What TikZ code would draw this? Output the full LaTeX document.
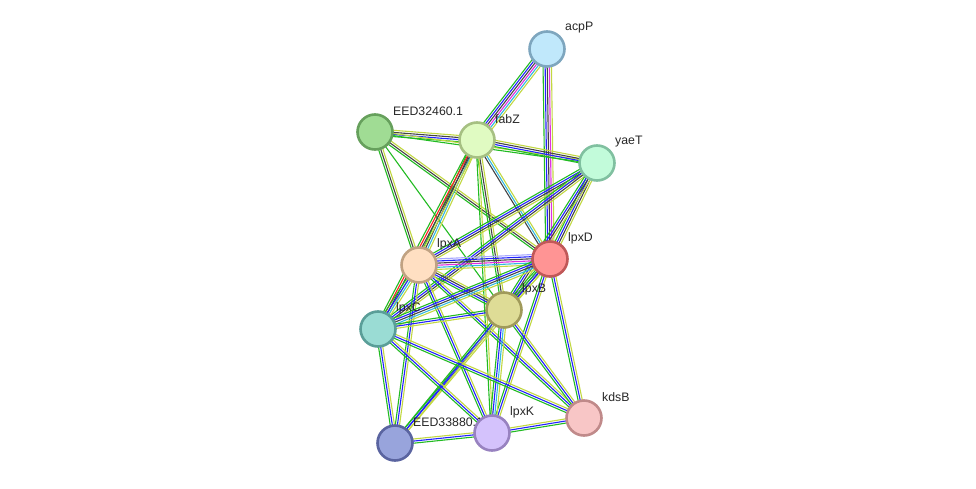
\documentclass[tikz,border=0pt]{standalone}
\usepackage{fontspec}
\setmainfont{Liberation Sans}
\usetikzlibrary{calc}
\pgfdeclarelayer{edges}
\pgfdeclarelayer{labels}
\pgfsetlayers{edges,labels,main}
\definecolor{sG}{HTML}{22BB22}
\definecolor{sY}{HTML}{C2D842}
\definecolor{sK}{HTML}{444444}
\definecolor{sB}{HTML}{2222FF}
\definecolor{sC}{HTML}{33B8E0}
\definecolor{sM}{HTML}{E030E0}
\definecolor{sR}{HTML}{FF2020}
\definecolor{sL}{HTML}{A8A8FF}
\definecolor{facpP}{HTML}{C0E8FB}\definecolor{dacpP}{HTML}{7EA6BE}
\definecolor{fE60}{HTML}{A0DC94}\definecolor{dE60}{HTML}{66A05C}
\definecolor{ffabZ}{HTML}{E0FBC2}\definecolor{dfabZ}{HTML}{A6C082}
\definecolor{fyaeT}{HTML}{C2FBDA}\definecolor{dyaeT}{HTML}{80C0A0}
\definecolor{flpxA}{HTML}{FFDFC2}\definecolor{dlpxA}{HTML}{C0A282}
\definecolor{flpxD}{HTML}{FF9494}\definecolor{dlpxD}{HTML}{C05858}
\definecolor{flpxB}{HTML}{DEDC96}\definecolor{dlpxB}{HTML}{A09A5A}
\definecolor{flpxC}{HTML}{9ADCD4}\definecolor{dlpxC}{HTML}{5A9E98}
\definecolor{fE80}{HTML}{98A4DC}\definecolor{dE80}{HTML}{5A64A0}
\definecolor{flpxK}{HTML}{D4C2FC}\definecolor{dlpxK}{HTML}{9882C0}
\definecolor{fkdsB}{HTML}{F8C6C6}\definecolor{dkdsB}{HTML}{C08A8A}
\tikzset{
  prot/.style={circle, minimum size=35pt, inner sep=0pt, line width=2.6pt, fill=f#1, draw=d#1},
  edgeline/.style={line width=1.1pt},
  lbl/.style={anchor=west, inner sep=0pt, font=\fontsize{12.3}{14}\selectfont, text=black!85}
}
\newcount\edgecnt
\newcommand\sedge[3]{%
  \global\edgecnt=0
  \foreach \c in {#3}{\global\advance\edgecnt by 1}%
  \foreach \c [count=\i] in {#3}{%
    \pgfmathsetmacro\off{(\i-(\the\edgecnt+1)/2)*2.1}%
    \draw[edgeline, \c] ($(#1.center)!\off pt!90:(#2.center)$) -- ($(#2.center)!\off pt!-90:(#1.center)$);
  }%
}
\begin{document}
\begin{tikzpicture}[x=1pt,y=-1pt]
\useasboundingbox (0,0) rectangle (976,489);
% proteins
\node[prot=acpP] (acpP) at (547,49) {};
\node[prot=E60] (E60) at (375,132) {};
\node[prot=fabZ] (fabZ) at (477,140) {};
\node[prot=yaeT] (yaeT) at (597,163) {};
\node[prot=lpxA] (lpxA) at (419,265) {};
\node[prot=lpxD] (lpxD) at (550,259) {};
\node[prot=lpxB] (lpxB) at (504,310) {};
\node[prot=lpxC] (lpxC) at (378,329) {};
\node[prot=E80] (E80) at (395,443) {};
\node[prot=lpxK] (lpxK) at (492,433) {};
\node[prot=kdsB] (kdsB) at (584,418) {};
% labels
\begin{pgfonlayer}{labels}
\node[lbl] (tacpP) at ($(acpP.center)+(18,-21)$) {acpP};
\node[lbl] (tE60) at ($(E60.center)+(18,-21)$) {EED32460.1};
\node[lbl] (tfabZ) at ($(fabZ.center)+(18,-21)$) {fabZ};
\node[lbl] (tyaeT) at ($(yaeT.center)+(18,-21)$) {yaeT};
\node[lbl] (tlpxA) at ($(lpxA.center)+(18,-21)$) {lpxA};
\node[lbl] (tlpxD) at ($(lpxD.center)+(18,-21)$) {lpxD};
\node[lbl] (tlpxB) at ($(lpxB.center)+(18,-21)$) {lpxB};
\node[lbl] (tlpxC) at ($(lpxC.center)+(18,-21)$) {lpxC};
\node[lbl] (tE80) at ($(E80.center)+(18,-21)$) {EED33880.1};
\node[lbl] (tlpxK) at ($(lpxK.center)+(18,-21)$) {lpxK};
\node[lbl] (tkdsB) at ($(kdsB.center)+(18,-21)$) {kdsB};
\end{pgfonlayer}
% interactions
\begin{pgfonlayer}{edges}
\sedge{acpP}{fabZ}{sG,sB,sK,sM,sC,sY}
\sedge{acpP}{lpxD}{sG,sB,sK,sM,sY}
\sedge{E60}{fabZ}{sG,sB,sK,sY}
\sedge{E60}{yaeT}{sG,sY}
\sedge{E60}{lpxA}{sG,sK,sY}
\sedge{E60}{lpxB}{sG}
\sedge{E60}{lpxD}{sG,sK,sY}
\sedge{fabZ}{yaeT}{sG,sB,sK,sY}
\sedge{fabZ}{lpxA}{sG,sK,sC,sY}
\sedge{fabZ}{lpxC}{sG,sR,sK,sY}
\sedge{fabZ}{lpxD}{sK,sC,sY}
\sedge{fabZ}{lpxB}{sG,sK,sY}
\sedge{fabZ}{lpxK}{sG,sY}
\sedge{yaeT}{lpxA}{sG,sB,sK,sY}
\sedge{yaeT}{lpxC}{sG,sB,sK,sY}
\sedge{yaeT}{lpxD}{sG,sB,sK,sY}
\sedge{yaeT}{lpxB}{sG,sB,sK,sY}
\sedge{lpxA}{lpxD}{sY,sC,sM,sK,sB,sL}
\sedge{lpxA}{lpxB}{sG,sB,sK,sY}
\sedge{lpxA}{lpxC}{sG,sB,sC,sY}
\sedge{lpxA}{lpxK}{sG,sB,sY}
\sedge{lpxA}{kdsB}{sG,sB,sY}
\sedge{lpxA}{E80}{sG,sB,sY}
\sedge{lpxD}{lpxB}{sG,sB,sK,sY}
\sedge{lpxD}{lpxC}{sG,sB,sK,sC,sY}
\sedge{lpxD}{lpxK}{sG,sB,sY}
\sedge{lpxD}{kdsB}{sG,sB,sY}
\sedge{lpxD}{E80}{sG,sB,sY}
\sedge{lpxB}{lpxC}{sG,sB,sY}
\sedge{lpxB}{lpxK}{sG,sB,sC,sY}
\sedge{lpxB}{E80}{sG,sB,sY}
\sedge{lpxB}{kdsB}{sG,sB,sY}
\sedge{lpxC}{E80}{sG,sB,sY}
\sedge{lpxC}{lpxK}{sG,sB,sY}
\sedge{lpxC}{kdsB}{sG,sB,sY}
\sedge{E80}{lpxK}{sG,sB,sY}
\sedge{lpxK}{kdsB}{sG,sB,sY}
\end{pgfonlayer}
\end{tikzpicture}
\end{document}
